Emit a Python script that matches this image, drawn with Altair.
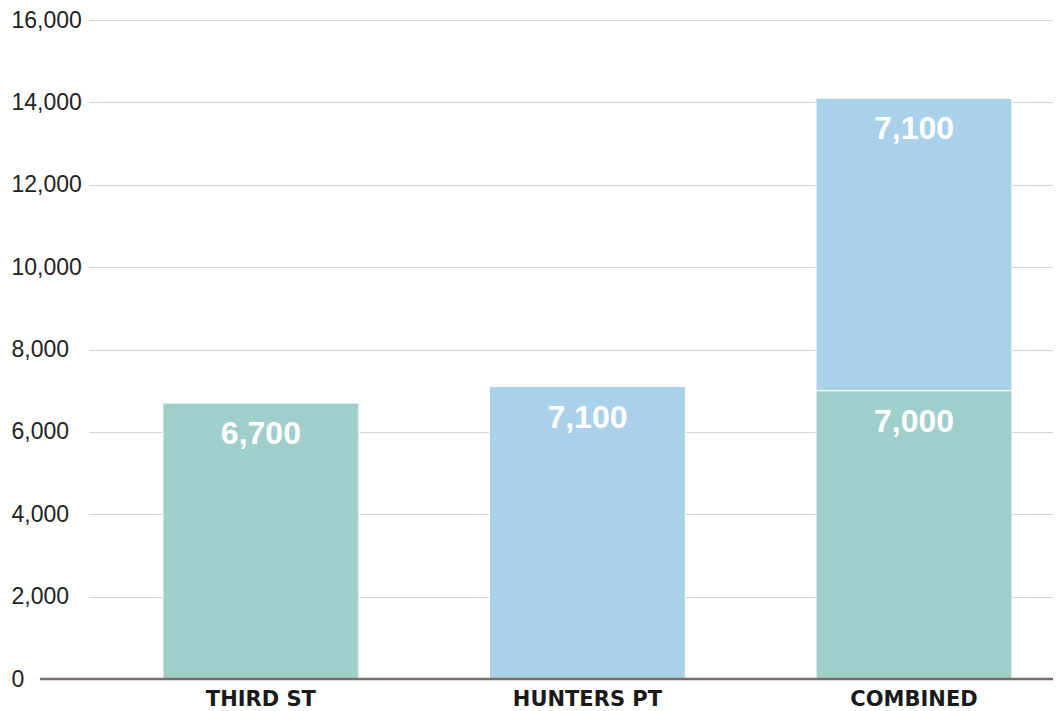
import altair as alt
import pandas as pd

categories = ["THIRD ST", "HUNTERS PT", "COMBINED"]
bar_category = ["THIRD ST", "HUNTERS PT", "COMBINED", "COMBINED"]
bar_segment = ["Third St", "Hunters Pt", "Third St", "Hunters Pt"]
bar_value = [6700, 7100, 7000, 7100]
bar_order = [0, 1, 0, 1]
segments = ["Third St", "Hunters Pt"]
seg_colors = ["#9fcfca", "#a9d1ea"]
y_ticks = [0, 2000, 4000, 6000, 8000, 10000, 12000, 14000, 16000]

W, H = 964, 659

df = pd.DataFrame({
    "category": bar_category,
    "segment": bar_segment,
    "value": bar_value,
    "order": bar_order,
})

x_scale = alt.Scale(domain=categories, paddingInner=0.4, paddingOuter=0.176, align=0.643)
y_scale = alt.Scale(domain=[0, 16000], nice=False)

x_axis = alt.Axis(
    title=None, domain=False, ticks=False, grid=False, labelAngle=0,
    labelFont="DejaVu Sans", labelFontSize=21, labelFontWeight="bold",
    labelColor="#1a1a1a", labelPadding=9, labelBaseline="top",
)
y_axis = alt.Axis(
    title=None, values=y_ticks, format=",d", domain=False, ticks=False,
    grid=True, gridColor="#d2d2d2", gridWidth=1.2,
    labelAlign="left", labelPadding=78, labelBaseline="middle",
    labelFont="Liberation Sans", labelFontSize=23, labelColor="#222222",
)

base = alt.Chart(df).transform_stack(
    stack="value",
    groupby=["category"],
    as_=["start", "end"],
    sort=[alt.SortField("order", order="ascending")],
)

bars = base.mark_bar(stroke="white", strokeWidth=1).encode(
    x=alt.X("category:N", sort=categories, scale=x_scale, axis=x_axis),
    y=alt.Y("start:Q", scale=y_scale, axis=y_axis),
    y2="end:Q",
    color=alt.Color(
        "segment:N",
        scale=alt.Scale(domain=segments, range=seg_colors),
        legend=None,
    ),
)

labels = base.mark_text(
    color="white", font="Liberation Sans", fontSize=32, fontWeight="bold",
    baseline="alphabetic", dy=41,
).encode(
    x=alt.X("category:N", sort=categories, scale=x_scale, axis=x_axis),
    y=alt.Y("end:Q", scale=y_scale, axis=y_axis),
    text=alt.Text("value:Q", format=","),
)

baseline = alt.Chart(pd.DataFrame({"zero": [0]})).mark_rule(
    color="#786d69", strokeWidth=2.5
).encode(
    y=alt.Y("zero:Q", scale=y_scale, axis=y_axis),
    x=alt.value(-49),
    x2=alt.value(W),
)

chart = alt.layer(bars, labels, baseline).properties(
    width=W,
    height=H,
    background="white",
    autosize=alt.AutoSizeParams(type="none"),
    padding={"left": 81, "top": 12, "right": 0, "bottom": 31},
).configure_view(stroke=None)

chart.save("out.html", embed_options={"renderer": "svg", "actions": False})
